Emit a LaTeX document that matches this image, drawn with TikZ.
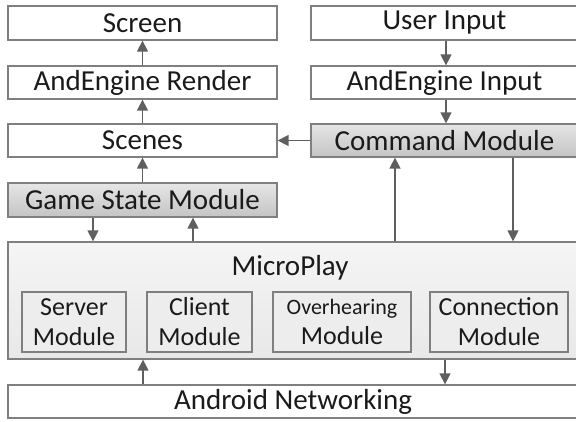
\documentclass[tikz,border=0pt]{standalone}
\usepackage{fontspec}
\setmainfont{Carlito}
\usetikzlibrary{arrows.meta}
\definecolor{lc}{HTML}{7F7F7F}
\definecolor{ac}{HTML}{5F5F5F}
\definecolor{tc}{HTML}{1A1A1A}
\tikzset{
  box/.style={draw=lc, line width=1.3pt, fill=white, inner sep=0pt, text=tc,
    font=\fontsize{29}{32}\selectfont, minimum height=34pt},
  graybox/.style={box, top color=white!90!black, bottom color=white!77!black},
  outer/.style={draw=lc, line width=1.3pt, inner sep=0pt, top color=white!96!black, bottom color=white!91!black},
  inner/.style={draw=lc, line width=1.1pt, fill=white!93!black, inner sep=0pt, text=tc,
    align=center, font=\fontsize{26}{30}\selectfont, minimum height=60pt},
  arr/.style={draw=ac, line width=1.5pt, -{Triangle[length=11pt,width=11pt]}}
}
\begin{document}
\begin{tikzpicture}[x=1pt,y=-1pt]
\useasboundingbox (0,0) rectangle (576,422);
\clip (0,0) rectangle (576,422);
\node[box, minimum width=269pt] (screen) at (142.5,23) {Screen};
\node[box, minimum width=269pt, minimum height=33pt] (render) at (142.5,82.5) {AndEngine Render};
\node[box, minimum width=269pt, minimum height=33pt] (scenes) at (142.5,140.5) {Scenes};
\node[graybox, minimum width=269pt] (gsm) at (142.5,200) {Game State Module};
\node[box, minimum width=267pt] (user) at (444.5,23) {User Input};
\node[box, minimum width=267pt, minimum height=33pt] (input) at (444.5,82.5) {AndEngine Input};
\node[graybox, minimum width=267pt, minimum height=33pt] (cmd) at (444.5,140.5) {Command Module};
\node[outer, minimum width=570pt, minimum height=117pt] (micro) at (293,300.5) {};
\node[text=tc, font=\fontsize{29}{32}\selectfont] (mlabel) at (290,268) {MicroPlay};
\node[inner, minimum width=104pt] (server) at (74,322) {Server\\Module};
\node[inner, minimum width=105pt] (client) at (199.5,322) {Client\\Module};
\node[inner, minimum width=138pt] (over) at (342,322) {{\fontsize{22}{30}\selectfont Overhearing}\\Module};
\node[inner, minimum width=138pt] (conn) at (499,322) {Connection\\Module};
\node[box, minimum width=570pt, minimum height=33pt] (android) at (293,401.5) {Android Networking};
% arrows
\draw[arr] (render.north) -- (screen.south);
\draw[arr] (scenes.north) -- (render.south);
\draw[arr] (gsm.north) -- (scenes.south);
\draw[arr] ([xshift=1.5pt]user.south) -- ([xshift=1.5pt]input.north);
\draw[arr] ([xshift=1.5pt]input.south) -- ([xshift=1.5pt]cmd.north);
\draw[arr] (cmd.west) -- (scenes.east);
\draw[arr] (gsm.south -| 93,0) -- (micro.north -| 93,0);
\draw[arr] (micro.north -| 193,0) -- (gsm.south -| 193,0);
\draw[arr] (micro.north -| 395,0) -- (cmd.south -| 395,0);
\draw[arr] (cmd.south -| 513,0) -- (micro.north -| 513,0);
\draw[arr] (android.north -| 143,0) -- (micro.south -| 143,0);
\draw[arr] (micro.south -| 445,0) -- (android.north -| 445,0);
\end{tikzpicture}
\end{document}
